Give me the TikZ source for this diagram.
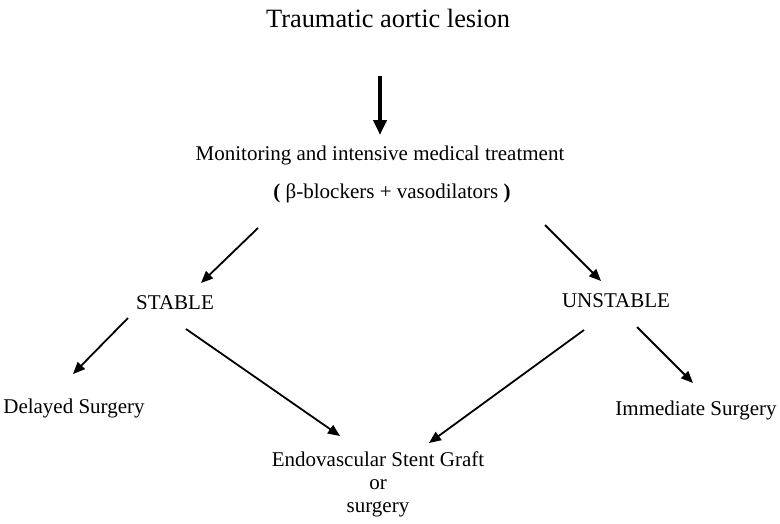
\documentclass[tikz,border=0pt]{standalone}
\usepackage{fontspec}
\setmainfont{Liberation Serif}
\usetikzlibrary{arrows.meta}
\begin{document}
\begin{tikzpicture}[x=1pt,y=-1pt,
  lbl/.style={inner sep=0pt,anchor=base,font=\fontsize{21}{23}\selectfont},
  arr/.style={line width=1.8pt,-{Triangle[length=12pt,width=10pt]}},
  bigarr/.style={line width=4pt,-{Triangle[length=15pt,width=13pt]}}]
\useasboundingbox (0,0) rectangle (780,523);
\node[lbl,font=\fontsize{26.4}{30}\selectfont] (title) at (388,27) {Traumatic aortic lesion};
\node[lbl] (treat) at (380,160) {Monitoring and intensive medical treatment};
\node[lbl] (drugs) at (392,198) {\textbf{(} β-blockers + vasodilators \textbf{)}};
\node[lbl] (stable) at (175,309) {STABLE};
\node[lbl] (unstable) at (616,307) {UNSTABLE};
\node[lbl] (delayed) at (74,413) {Delayed Surgery};
\node[lbl] (immediate) at (696,415) {Immediate Surgery};
\node[lbl,align=center,anchor=north] (endo) at (378,452) {Endovascular Stent Graft\\or\\surgery};
\coordinate (a0) at (380,76); \coordinate (a1) at (380,135);
\coordinate (b0) at (258,228); \coordinate (b1) at (201,283);
\coordinate (c0) at (545,225); \coordinate (c1) at (601,281);
\coordinate (d0) at (128,318); \coordinate (d1) at (73,374);
\coordinate (e0) at (186,329); \coordinate (e1) at (340,436);
\coordinate (f0) at (584,330); \coordinate (f1) at (429,443);
\coordinate (g0) at (637,327); \coordinate (g1) at (693,383);
\draw[bigarr] (a0) -- (a1);
\draw[arr] (b0) -- (b1);
\draw[arr] (c0) -- (c1);
\draw[arr] (d0) -- (d1);
\draw[arr] (e0) -- (e1);
\draw[arr] (f0) -- (f1);
\draw[arr] (g0) -- (g1);
\end{tikzpicture}
\end{document}
